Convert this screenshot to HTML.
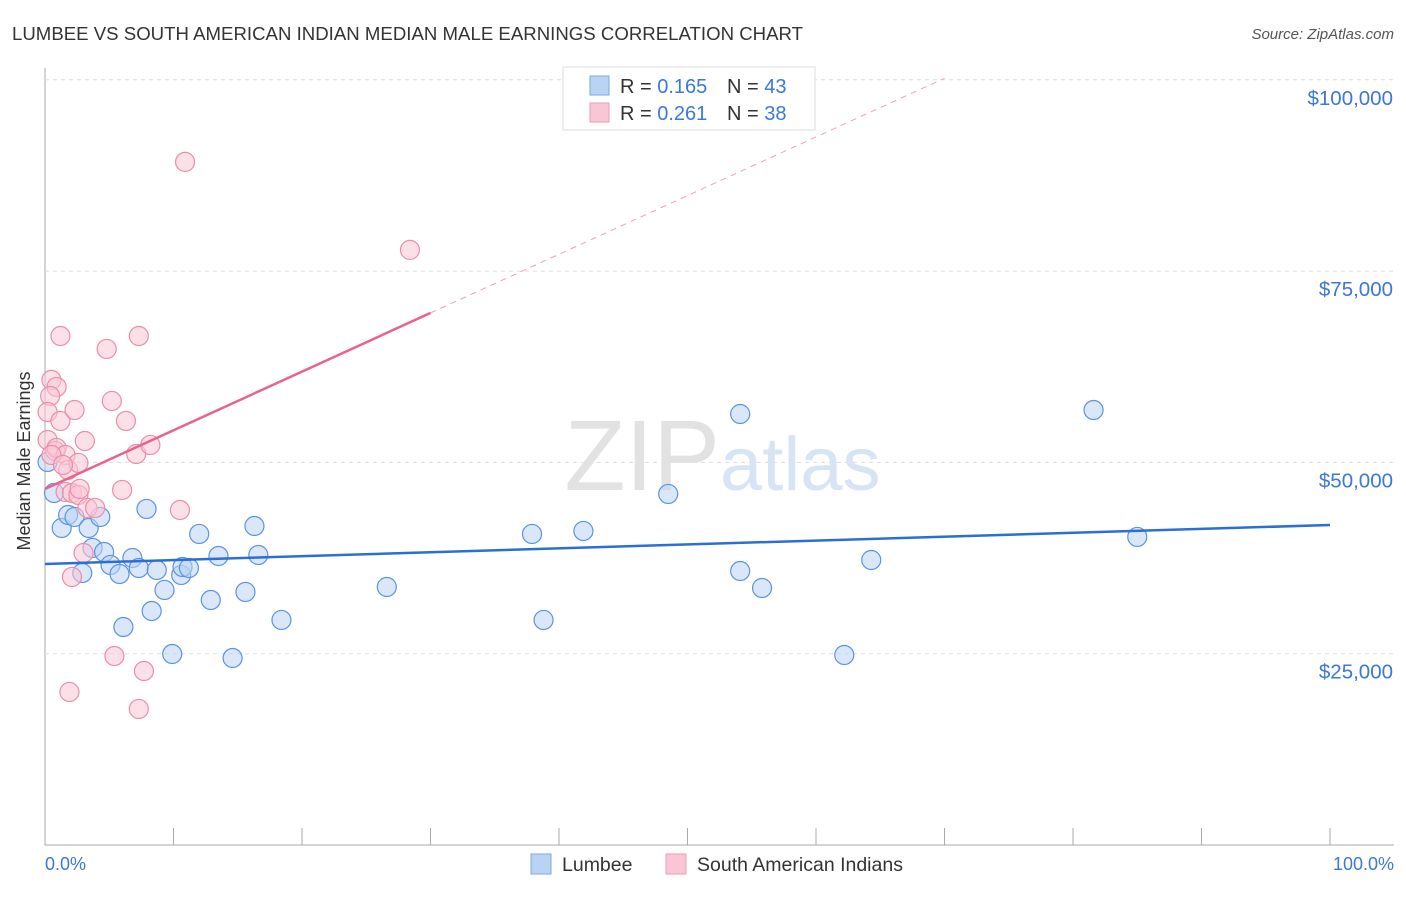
<!DOCTYPE html>
<html><head><meta charset="utf-8"><style>
body{margin:0;background:#fff;font-family:"Liberation Sans",sans-serif}
svg text{font-family:"Liberation Sans",sans-serif}
</style></head><body>
<svg id="c" width="1406" height="892">
<text x="12" y="40" font-size="18.6" fill="#333" textLength="791">LUMBEE VS SOUTH AMERICAN INDIAN MEDIAN MALE EARNINGS CORRELATION CHART</text>
<text x="1394" y="39" font-size="15" fill="#555" font-style="italic" text-anchor="end">Source: ZipAtlas.com</text>
<g id="grid"></g>
<text x="720" y="490" font-size="100" fill="#e2e2e2" text-anchor="end" font-family="Liberation Serif">ZIP</text>
<text x="720" y="490" font-size="76" fill="#d6e4f5">atlas</text>
<g id="marks"></g>
<text x="24" y="455" font-size="18" fill="#333" transform="rotate(-90 30 455)" text-anchor="middle">Median Male Earnings</text>
<text x="45" y="870" font-size="18" fill="#3b78d8">0.0%</text>
<text x="1394" y="870" font-size="18" fill="#3b78d8" text-anchor="end">100.0%</text>
<g>
<rect x="563" y="67" width="252" height="63" fill="#fff" stroke="#ddd"/>
<rect x="590" y="76" width="19" height="19" fill="#b9d3f3" stroke="#7aa7e6"/>
<rect x="590" y="103" width="19" height="19" fill="#f9c6d5" stroke="#ee9ab4"/>
<text x="620" y="93" font-size="20" fill="#333">R = <tspan fill="#3b78d8">0.165</tspan></text>
<text x="727" y="93" font-size="20" fill="#333">N = <tspan fill="#3b78d8">43</tspan></text>
<text x="620" y="120" font-size="20" fill="#333">R = <tspan fill="#3b78d8">0.261</tspan></text>
<text x="727" y="120" font-size="20" fill="#333">N = <tspan fill="#3b78d8">38</tspan></text>
</g>
<g>
<rect x="531" y="854" width="20" height="20" fill="#b9d3f3" stroke="#7aa7e6"/>
<text x="562" y="871" font-size="19.5" fill="#333">Lumbee</text>
<rect x="666" y="854" width="20" height="20" fill="#f9c6d5" stroke="#ee9ab4"/>
<text x="697" y="871" font-size="19.5" fill="#333">South American Indians</text>
</g>
</svg>
<script>
const yTicks=[25000,50000,75000,100000];
const yTickLabels=["$25,000","$50,000","$75,000","$100,000"];
const xTicks=[0,10,20,30,40,50,60,70,80,90,100];
const blueX=[0.2,0.7,1.3,1.8,2.3,3.4,2.9,4.3,3.7,4.6,5.1,5.8,6.1,6.8,7.3,7.9,8.3,8.7,9.3,9.9,10.6,10.7,11.2,12.0,12.9,13.5,14.6,15.6,16.3,16.6,18.4,26.6,37.9,38.8,41.9,48.5,54.1,54.1,55.8,62.2,64.3,81.6,85.0];
const blueY=[50060,46000,41430,43130,42870,41430,35550,42870,38820,38290,36600,35420,28490,37510,36200,43920,30580,35940,33330,24960,35290,36330,36200,40650,32020,37770,24440,33070,41690,37900,29410,33720,40650,29410,41040,45880,56330,35810,33590,24830,37250,56850,40260];
const pinkX=[0.2,1.2,0.5,0.9,0.4,0.2,1.2,2.3,0.8,0.9,1.6,1.8,2.6,3.1,1.6,2.1,2.6,2.7,3.3,3.9,3.0,2.1,4.8,5.2,6.3,7.3,7.1,8.2,6.0,10.5,10.9,28.4,5.4,7.7,7.3,1.9,0.5,1.4];
const pinkY=[52930,66520,60780,59860,58680,56590,55420,56850,51490,51890,50970,49010,49930,52800,46140,46000,45740,46530,44050,44050,38160,35030,64830,58030,55420,66520,51100,52280,46400,43780,89270,77770,24700,22740,17780,20000,50970,49670];
const blueTrend=[36730,41820];
const pinkTrend=[46530,766.7];
const NS="http://www.w3.org/2000/svg";
const X=v=>45+v*12.85, Y=v=>845-v/25000*191.3;
const grid=document.getElementById('grid'), marks=document.getElementById('marks');
function mk(p,tag,a){const e=document.createElementNS(NS,tag);for(const k in a)e.setAttribute(k,a[k]);p.appendChild(e);return e;}
let ax=mk(grid,'line',{x1:45,y1:68,x2:45,y2:845,stroke:'#aaa'});


ax=mk(grid,'line',{x1:45,y1:845,x2:1394,y2:845,stroke:'#aaa'});


yTicks.forEach((t,i)=>{
 const g=mk(grid,'line',{x1:45,y1:Y(t),x2:1394,y2:Y(t),stroke:'#ddd','stroke-dasharray':'4,4'});
 
 
 const tx=mk(grid,'text',{x:1393,y:Y(t)+25,'font-size':20.5,fill:'#3b78d8','text-anchor':'end'});
 tx.textContent=yTickLabels[i];
 
 
});
xTicks.forEach(t=>{
 const l=mk(grid,'line',{x1:X(t),y1:828,x2:X(t),y2:845,stroke:'#aaa'});
 
 
});
function pts(xs,ys,fill,stroke,name){xs.forEach((x,i)=>{
 const c=mk(marks,'circle',{cx:X(x),cy:Y(ys[i]),r:9.5,fill:fill,'fill-opacity':0.55,stroke:stroke,'stroke-width':1.2});
 
 
});}
pts(blueX,blueY,'#b9d3f3','#5b93e0','lumbee-point');
pts(pinkX,pinkY,'#f9c6d5','#ec8cab','south-american-indian-point');
let l=mk(marks,'line',{x1:X(0),y1:Y(blueTrend[0]),x2:X(100),y2:Y(blueTrend[1]),stroke:'#2a6fd6','stroke-width':2.5});


l=mk(marks,'line',{x1:X(0),y1:Y(pinkTrend[0]),x2:X(30),y2:Y(pinkTrend[0]+30*pinkTrend[1]),stroke:'#e8638f','stroke-width':2.5});


l=mk(marks,'line',{x1:X(30),y1:Y(pinkTrend[0]+30*pinkTrend[1]),x2:X(70),y2:Y(pinkTrend[0]+70*pinkTrend[1]),stroke:'#eea0b8','stroke-width':1,'stroke-dasharray':'6,5'});


</script>
</body></html>
